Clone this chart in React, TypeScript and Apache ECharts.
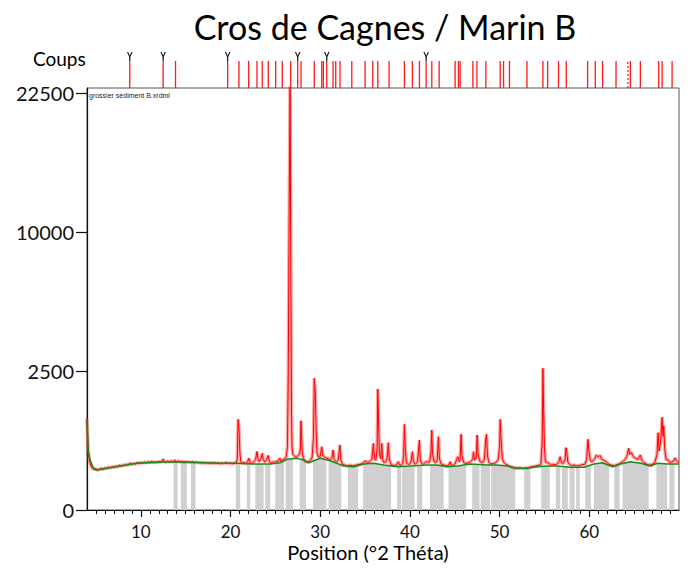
import React, { useEffect, useRef } from 'react';
import * as echarts from 'echarts';

// ---- axes ----
const X_MIN = 4;
const X_MAX = 70;
const xMajorTicks = [10, 20, 30, 40, 50, 60];
const xMinorTicks: number[] = [];
for (let v = 5; v < 70; v++) if (v % 10 !== 0) xMinorTicks.push(v);
const yTickCounts = [0, 2500, 10000, 22500];
const Y_MAX_COUNTS = 23040;

// ---- measured pattern (°2θ, counts) ----
const measuredTheta = [
  4.0, 4.06, 4.12, 4.2, 4.3, 4.45, 4.6, 4.8, 5.0, 5.2, 5.4, 5.6, 5.8, 6.0, 6.2, 6.4, 6.6, 6.8, 7.0, 7.2, 7.4, 7.6, 7.8,
  8.0, 8.2, 8.4, 8.6, 8.8, 9.0, 9.2, 9.4, 9.6, 9.8, 10.0, 10.2, 10.4, 10.6, 10.8, 11.0, 11.2, 11.4, 11.6, 11.8,
  12.0, 12.2, 12.4, 12.5, 12.6, 12.8, 13.0, 13.2, 13.4, 13.6, 13.8, 14.0, 14.2, 14.4, 14.6, 14.8, 15.0, 15.2, 15.4,
  15.6, 15.8, 16.0, 16.2, 16.4, 16.6, 16.8, 17.0, 17.2, 17.4, 17.6, 17.8, 18.0, 18.2, 18.4, 18.6, 18.8, 19.0, 19.2,
  19.5, 19.8, 20.0, 20.2, 20.4, 20.6, 20.75, 20.85, 20.92, 20.98, 21.05, 21.15, 21.3, 21.5, 21.7, 21.9, 22.05, 22.2,
  22.4, 22.6, 22.8, 22.95, 23.05, 23.2, 23.4, 23.55, 23.65, 23.8, 24.0, 24.2, 24.3, 24.5, 24.7, 24.9, 25.1, 25.3,
  25.5, 25.6, 25.8, 26.0, 26.2, 26.35, 26.44, 26.55, 26.64, 26.73, 26.8, 26.86, 26.95, 27.1, 27.3, 27.5, 27.7, 27.8,
  27.86, 27.92, 28.0, 28.15, 28.3, 28.5, 28.7, 28.9, 29.1, 29.25, 29.34, 29.45, 29.55, 29.65, 29.8, 30.0, 30.17,
  30.3, 30.5, 30.7, 30.9, 31.1, 31.3, 31.45, 31.55, 31.8, 32.0, 32.2, 32.3, 32.5, 32.8, 33.0, 33.3, 33.6, 33.9,
  34.2, 34.5, 34.8, 35.0, 35.2, 35.5, 35.75, 35.93, 36.05, 36.2, 36.35, 36.42, 36.5, 36.6, 36.75, 36.86, 36.95,
  37.1, 37.3, 37.45, 37.6, 37.7, 37.9, 38.1, 38.3, 38.5, 38.7, 38.85, 39.0, 39.2, 39.3, 39.39, 39.48, 39.6, 39.8,
  40.0, 40.15, 40.28, 40.4, 40.6, 40.85, 41.06, 41.15, 41.3, 41.5, 41.7, 41.85, 42.0, 42.2, 42.35, 42.44, 42.52,
  42.7, 42.9, 43.05, 43.18, 43.28, 43.45, 43.7, 43.9, 44.1, 44.3, 44.5, 44.6, 44.8, 45.0, 45.35, 45.5, 45.6, 45.71,
  45.8, 46.0, 46.2, 46.5, 46.75, 47.0, 47.09, 47.2, 47.4, 47.5, 47.6, 47.7, 47.85, 48.1, 48.3, 48.45, 48.54, 48.65,
  48.8, 49.0, 49.3, 49.6, 49.85, 50.0, 50.07, 50.15, 50.3, 50.5, 50.7, 50.9, 51.1, 51.4, 51.7, 52.0, 52.3, 52.6,
  52.9, 53.2, 53.5, 53.8, 54.1, 54.4, 54.6, 54.75, 54.83, 54.9, 55.0, 55.1, 55.35, 55.6, 55.8, 56.0, 56.3, 56.6,
  56.76, 56.9, 57.1, 57.3, 57.4, 57.5, 57.6, 57.8, 58.0, 58.3, 58.6, 58.9, 59.2, 59.5, 59.7, 59.85, 59.95, 60.1,
  60.3, 60.6, 60.8, 61.0, 61.2, 61.4, 61.6, 61.9, 62.2, 62.5, 62.8, 63.1, 63.4, 63.7, 64.0, 64.2, 64.39, 64.5,
  64.7, 64.9, 65.1, 65.4, 65.69, 65.85, 66.1, 66.4, 66.7, 67.0, 67.3, 67.55, 67.67, 67.78, 67.95, 68.12, 68.22,
  68.3, 68.4, 68.55, 68.8, 69.0, 69.2, 69.4, 69.55, 69.7, 69.85, 70.0,
];
const measuredCounts = [
  1080, 760, 480, 360, 300, 250, 228, 212, 220, 205, 215, 225, 212, 230, 222, 238, 228, 242, 235, 250, 240, 258, 248,
  262, 255, 270, 262, 285, 270, 280, 272, 290, 280, 292, 284, 298, 286, 300, 290, 305, 292, 300, 290,
  304, 296, 318, 335, 305, 296, 310, 298, 312, 300, 318, 302, 310, 296, 306, 294, 304, 292, 300,
  290, 302, 288, 298, 286, 296, 284, 294, 282, 292, 280, 290, 282, 292, 280, 288, 276, 286, 278,
  290, 280, 286, 276, 288, 282, 330, 1064, 900, 695, 420, 300, 282, 292, 276, 300, 345, 290,
  278, 300, 330, 443, 340, 300, 340, 416, 330, 300, 320, 384, 310, 280, 300, 290, 310, 300,
  350, 310, 320, 340, 360, 520, 2475, 12700, 24000, 6550, 1200, 513, 400, 380, 360, 380, 400, 500,
  1032, 708, 420, 340, 310, 300, 300, 320, 360, 700, 2244, 1811, 828, 420, 360, 370, 518,
  380, 360, 350, 340, 330, 350, 466, 330, 300, 320, 547, 320, 270, 260, 250, 260, 252, 258,
  265, 272, 290, 310, 295, 300, 330, 575, 340, 320, 500, 1894, 1100, 420, 340, 575, 330,
  290, 300, 340, 586, 330, 270, 260, 255, 262, 300, 265, 258, 280, 400, 950, 500, 290, 268,
  275, 320, 440, 300, 270, 300, 634, 340, 280, 270, 290, 310, 290, 300, 420, 828, 400,
  300, 290, 330, 695, 350, 280, 265, 258, 250, 255, 300, 262, 258, 270, 367, 300, 330, 742,
  380, 290, 280, 290, 300, 330, 440, 320, 360, 728, 400, 346, 300, 290, 330, 634, 742, 380,
  290, 275, 280, 290, 330, 520, 1064, 700, 340, 290, 270, 260, 250, 238, 228, 225, 230, 222,
  228, 232, 240, 245, 252, 260, 270, 600, 2598, 1427, 500, 300, 290, 275, 260, 268, 265, 300,
  367, 290, 280, 330, 502, 420, 300, 270, 255, 262, 250, 258, 265, 270, 330, 647, 460, 320,
  300, 340, 391, 360, 385, 330, 320, 300, 270, 260, 255, 265, 280, 300, 330, 380, 493, 400,
  430, 367, 350, 330, 391, 320, 290, 270, 260, 268, 290, 400, 773, 450, 600, 1112, 700,
  913, 500, 330, 323, 290, 300, 310, 350, 320, 300, 295,
];

// ---- fitted background ----
const backgroundTheta = [
  4.0, 4.14, 4.34, 4.72, 5.09, 6.21, 7.69, 9.55, 11.42, 13.27, 15.13, 17.0, 18.85, 20.71, 22.58, 24.43, 25.55,
  26.29, 27.41, 28.16, 28.72, 29.27, 30.01, 31.13, 32.62, 33.74, 34.85, 35.97, 37.09, 38.57, 40.06, 41.92, 43.04,
  44.15, 45.27, 46.75, 48.62, 49.73, 50.85, 51.97, 53.09, 54.2, 55.32, 56.44, 57.91, 59.41, 60.52, 61.45, 62.57,
  63.49, 64.61, 65.73, 66.84, 67.59, 68.71, 69.82, 70.0,
];
const backgroundCounts = [
  1050, 450, 323, 225, 207, 225, 251, 282, 294, 302, 298, 289, 282, 282, 274, 274, 289,
  334, 346, 323, 289, 314, 346, 314, 251, 243, 274, 282, 262, 243, 251, 262, 262,
  243, 251, 274, 262, 262, 251, 225, 225, 243, 251, 251, 236, 236, 274, 289, 243,
  274, 302, 282, 251, 282, 274, 274, 274,
];

// ---- grey bands (°2θ ranges) ----
const bandStarts = [
  13.65, 14.46, 15.58, 20.6, 21.83, 22.76, 23.87, 24.99, 26.15, 27.71, 29.2, 30.93, 33.1, 34.78, 38.57, 39.13,
  40.8, 42.25, 44.3, 46.94, 47.89, 49.06, 52.75, 54.64, 56.26, 56.95, 57.8, 58.53, 59.55, 60.52, 62.79, 63.72,
  67.48, 68.93,
];
const bandEnds = [
  14.1, 15.13, 16.1, 21.08, 22.2, 23.69, 24.43, 25.96, 26.96, 28.42, 30.68, 32.35, 34.22, 37.9, 39.02, 40.52,
  41.39, 43.76, 46.27, 47.76, 48.95, 51.74, 53.42, 55.59, 56.76, 57.6, 58.36, 58.94, 60.17, 62.2, 63.38, 66.62,
  68.67, 69.49,
];

// ---- reference pattern sticks ----
const refSticks = [
  8.77, 12.49, 13.87, 19.68, 20.94, 22.02, 22.95, 23.54, 24.21, 25.03, 25.77, 26.71, 27.49, 27.86, 29.34, 30.17,
  30.35, 30.73, 31.43, 31.73, 32.21, 33.52, 35.0, 35.86, 36.42, 37.68, 39.39, 40.28, 41.06, 41.81, 42.44, 43.26,
  45.04, 45.41, 45.6, 47.02, 47.47, 48.47, 50.07, 50.44, 51.1, 53.05, 54.83, 55.35, 56.57, 57.43, 59.81, 60.67,
  61.48, 62.98, 64.58, 65.69, 67.74, 68.12, 69.23,
];
const dottedSticks = [64.3];
const phaseMarkers = [8.77, 12.49, 19.68, 27.49, 30.73, 41.81];

const FONT = 'Lato, "Open Sans", sans-serif';

function bgAt(t: number): number {
  if (t <= backgroundTheta[0]) return backgroundCounts[0];
  for (let i = 1; i < backgroundTheta.length; i++) {
    if (t <= backgroundTheta[i]) {
      const t0 = backgroundTheta[i - 1], t1 = backgroundTheta[i];
      const f = (t - t0) / (t1 - t0);
      const s0 = Math.sqrt(backgroundCounts[i - 1]), s1 = Math.sqrt(backgroundCounts[i]);
      return Math.pow(s0 + f * (s1 - s0), 2);
    }
  }
  return backgroundCounts[backgroundCounts.length - 1];
}

export default function App() {
  const ref = useRef<HTMLDivElement>(null);
  useEffect(() => {
    document.body.style.margin = '0';
    if (!ref.current) return;
    const chart = echarts.init(ref.current, undefined, { renderer: 'svg' });
    const sq = (c: number) => Math.sqrt(c);

    const measuredData = measuredTheta.map((t, i) => [t, sq(measuredCounts[i])]);
    const bgData = backgroundTheta.map((t, i) => [t, sq(backgroundCounts[i])]);
    const bandData = bandStarts.map((s, i) => [s, bandEnds[i]]);
    const stickData = refSticks.map((t) => [t, 0, 0]).concat(dottedSticks.map((t) => [t, 0, 1]));
    const markerData = phaseMarkers.map((t) => [t, 0]);

    const option: any = {
      animation: false,
      grid: [
        { left: 87, right: 12, top: 88, bottom: 62, show: true, borderColor: '#555', borderWidth: 1, backgroundColor: 'transparent' },
        { left: 87, right: 12, top: 45, height: 43 },
      ],
      xAxis: [
        {
          type: 'value', gridIndex: 0, min: X_MIN, max: X_MAX, position: 'bottom',
          axisLine: { show: true, onZero: false, lineStyle: { color: '#111', width: 1.2 } },
          axisTick: { show: true, customValues: xMajorTicks, length: 7, lineStyle: { color: '#111', width: 1.2 } },
          axisLabel: { show: true, customValues: xMajorTicks, margin: 13, fontSize: 17, fontFamily: FONT, color: '#111' },
          splitLine: { show: false },
        },
        {
          type: 'value', gridIndex: 0, min: X_MIN, max: X_MAX, position: 'bottom', offset: 0,
          axisLine: { show: false },
          axisTick: { show: true, customValues: xMinorTicks, length: 4, lineStyle: { color: '#111', width: 1 } },
          axisLabel: { show: false },
          splitLine: { show: false },
        },
        { type: 'value', gridIndex: 1, min: X_MIN, max: X_MAX, show: false },
      ],
      yAxis: [
        {
          type: 'value', gridIndex: 0, min: 0, max: sq(Y_MAX_COUNTS),
          axisLine: { show: true, onZero: false, lineStyle: { color: '#111', width: 1.2 } },
          axisTick: { show: true, customValues: yTickCounts.map(sq), length: 11, lineStyle: { color: '#111', width: 1.2 } },
          axisLabel: {
            show: true, customValues: yTickCounts.map(sq), margin: 13, fontSize: 20, fontFamily: FONT, color: '#111',
            formatter: (v: number) => String(Math.round(v * v)),
          },
          splitLine: { show: false },
        },
        { type: 'value', gridIndex: 1, min: 0, max: 43, show: false },
      ],
      series: [
        {
          type: 'custom', xAxisIndex: 0, yAxisIndex: 0, clip: true, z: 1,
          data: bandData,
          encode: { x: [0, 1] },
          renderItem: (params: any, api: any) => {
            const s = api.value(0), e = api.value(1);
            const pts: number[][] = [];
            pts.push(api.coord([s, 0]));
            pts.push(api.coord([s, sq(bgAt(s))]));
            for (let i = 0; i < backgroundTheta.length; i++) {
              const t = backgroundTheta[i];
              if (t > s && t < e) pts.push(api.coord([t, sq(backgroundCounts[i])]));
            }
            pts.push(api.coord([e, sq(bgAt(e))]));
            pts.push(api.coord([e, 0]));
            return { type: 'polygon', shape: { points: pts }, style: { fill: '#d0d0d0', stroke: null } };
          },
        },
        {
          type: 'line', xAxisIndex: 0, yAxisIndex: 0, data: measuredData, showSymbol: false, symbol: 'none', z: 2,
          lineStyle: { color: 'rgba(255,40,40,0.42)', width: 3.5 }, silent: true,
        },
        {
          type: 'line', xAxisIndex: 0, yAxisIndex: 0, data: measuredData, showSymbol: false, symbol: 'none', z: 3,
          lineStyle: { color: '#ff0000', width: 1 }, silent: true,
        },
        {
          type: 'line', xAxisIndex: 0, yAxisIndex: 0, data: bgData, showSymbol: false, symbol: 'none', z: 4,
          lineStyle: { color: '#1a8a1a', width: 1.6 }, silent: true,
        },
        {
          type: 'custom', xAxisIndex: 2, yAxisIndex: 1, clip: false, z: 5,
          data: stickData,
          renderItem: (params: any, api: any) => {
            const t = api.value(0);
            const b = api.coord([t, 0]);
            const top = api.coord([t, 27]);
            const dotted = api.value(2) === 1;
            return {
              type: 'line',
              shape: { x1: b[0], y1: b[1], x2: top[0], y2: top[1] },
              style: { stroke: '#ff1a1a', lineWidth: 1.3, lineDash: dotted ? [2, 2] : null },
            };
          },
        },
        {
          type: 'custom', xAxisIndex: 2, yAxisIndex: 1, clip: false, z: 6,
          data: markerData,
          renderItem: (params: any, api: any) => {
            const t = api.value(0);
            const a = api.coord([t, 27]);
            const m = api.coord([t, 31]);
            const h = api.coord([t, 36]);
            return {
              type: 'group',
              children: [
                { type: 'line', shape: { x1: a[0], y1: a[1], x2: m[0], y2: m[1] }, style: { stroke: '#111', lineWidth: 1.2 } },
                { type: 'polyline', shape: { points: [[h[0] - 2.2, h[1]], [m[0], m[1]], [h[0] + 2.2, h[1]]] }, style: { stroke: '#111', lineWidth: 1.1, fill: null } },
              ],
            };
          },
        },
      ],
      graphic: [
        { type: 'text', x: 385, y: 26, style: { text: 'Cros de Cagnes / Marin B', font: `34px ${FONT}`, fill: '#000', align: 'center', verticalAlign: 'middle', textAlign: 'center', textVerticalAlign: 'middle' } },
        { type: 'text', x: 33, y: 58, style: { text: 'Coups', font: `19px ${FONT}`, fill: '#000', align: 'left', verticalAlign: 'middle', textAlign: 'left', textVerticalAlign: 'middle' } },
        { type: 'text', x: 368, y: 552, style: { text: 'Position (°2 Théta)', font: `20px ${FONT}`, fill: '#000', align: 'center', verticalAlign: 'middle', textAlign: 'center', textVerticalAlign: 'middle' } },
        { type: 'text', x: 89, y: 95, z: 10, style: { text: 'grossier sédiment B.xrdml', font: '7px "Liberation Sans", Arial, sans-serif', fill: '#222', align: 'left', verticalAlign: 'middle', textAlign: 'left', textVerticalAlign: 'middle' } },
      ],
    };
    chart.setOption(option);
    return () => chart.dispose();
  }, []);
  return <div ref={ref} style={{ width: 691, height: 572 }} />;
}
